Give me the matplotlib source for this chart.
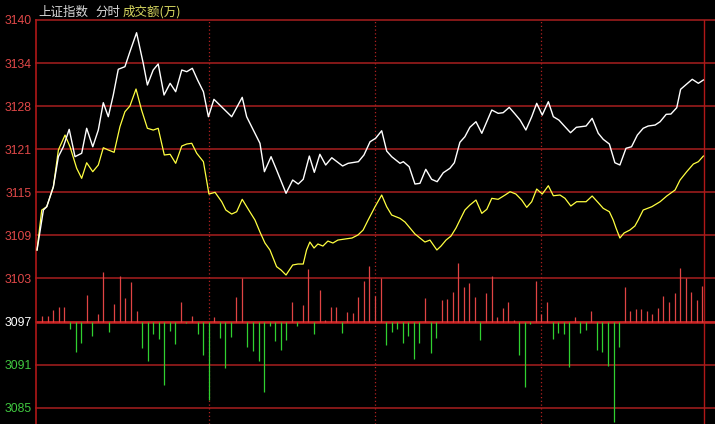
import numpy as np
import matplotlib.pyplot as plt

plt.rcParams['font.family'] = ['Noto Sans CJK SC', 'DejaVu Sans']

# 昨收与纵轴刻度
pre_close = 3097.5
step = 6.112
tick_labels = ['3085', '3091', '3097', '3103', '3109', '3115', '3121', '3128', '3134', '3140']
tick_colors = ['#40c840', '#40c840', '#ffffff'] + ['#e04848'] * 7

# 价格线（分钟, 价格）
price_t = [-1.9, 0.4, 1.6, 2.8, 4.0, 5.8, 7.6, 9.7, 11.8, 14.2, 16.0, 18.2, 20.2, 22.0, 23.8,
           25.6, 27.4, 29.8, 31.6, 34.0, 36.4, 37.9, 40.0, 41.8, 43.9, 46.1, 48.1, 50.3, 52.1,
           54.1, 56.0, 58.1, 59.9, 61.9, 68.3, 72.1, 73.7, 76.1, 78.5, 80.1, 82.5, 84.5, 87.9,
           90.3, 92.3, 94.1, 96.3, 98.1, 100.1, 102.2, 104.4, 108.3, 110.3, 114.0, 116.0, 118.2,
           120.2, 122.4, 124.2, 126.0, 129.0, 130.2, 132.3, 134.4, 136.2, 138.3, 140.4, 142.4,
           144.6, 147.0, 148.6, 150.6, 152.4, 154.2, 156.4, 158.5, 162.1, 164.4, 166.2, 168.4,
           170.5, 172.3, 174.4, 176.5, 178.3, 180.3, 182.5, 184.3, 186.3, 188.5, 190.5, 192.6,
           196.1, 198.3, 200.5, 202.3, 204.5, 206.5, 208.3, 210.5, 212.5, 214.6, 216.7, 218.5,
           221.0, 222.8, 225.0, 226.7, 228.8, 230.2, 232.4, 234.4, 236.6, 238.4]
price_v = [3107.65, 3113.32, 3113.79, 3115.21, 3116.63, 3120.89, 3122.30, 3124.77, 3120.89,
           3121.37, 3124.92, 3122.30, 3124.67, 3128.55, 3126.56, 3129.64, 3133.29, 3133.66,
           3135.78, 3138.48, 3134.14, 3131.06, 3133.19, 3134.04, 3129.64, 3131.30, 3130.11,
           3133.19, 3132.95, 3133.43, 3131.77, 3130.11, 3126.56, 3129.03, 3126.56, 3129.31,
           3126.56, 3124.67, 3122.79, 3118.76, 3120.89, 3119.00, 3115.69, 3117.58, 3117.01,
           3117.68, 3120.98, 3118.67, 3121.23, 3119.71, 3120.74, 3119.57, 3119.95, 3120.18,
           3121.13, 3123.01, 3123.50, 3124.57, 3121.69, 3120.89, 3119.95, 3120.18, 3119.47,
           3117.01, 3117.11, 3119.10, 3117.68, 3117.34, 3118.61, 3119.24, 3120.03, 3122.93,
           3123.72, 3125.06, 3125.85, 3124.21, 3127.51, 3127.04, 3127.13, 3127.89, 3126.94,
           3126.09, 3124.67, 3126.56, 3128.46, 3126.80, 3128.69, 3126.56, 3126.09, 3125.14,
           3124.29, 3125.06, 3125.24, 3126.33, 3124.21, 3123.35, 3122.69, 3120.03, 3119.71,
           3122.08, 3122.30, 3123.96, 3124.92, 3125.24, 3125.38, 3125.85, 3126.90, 3126.94,
           3127.84, 3130.45, 3131.20, 3131.87, 3131.30, 3131.77]

# 均价线（分钟, 价格）
avg_t = [-1.9, -0.2, 1.6, 2.8, 4.0, 5.8, 8.2, 10.0, 12.4, 14.2, 16.0, 18.2, 20.2, 22.0, 23.8,
         25.9, 28.0, 29.8, 31.6, 33.8, 35.8, 37.9, 40.0, 41.8, 44.0, 46.1, 48.1, 50.3, 52.1,
         53.9, 55.7, 58.1, 60.1, 62.3, 64.7, 66.2, 68.3, 70.1, 72.1, 74.3, 76.7, 78.5, 80.3,
         82.1, 84.5, 86.1, 87.9, 90.3, 92.2, 94.1, 95.3, 96.5, 98.0, 99.4, 101.2, 103.0, 104.8,
         106.6, 109.2, 111.7, 113.8, 115.7, 117.5, 120.0, 122.4, 124.2, 126.0, 129.0, 130.8,
         132.6, 134.4, 136.2, 138.0, 139.8, 141.3, 142.3, 143.8, 145.6, 147.4, 149.2, 150.6,
         152.4, 154.2, 156.4, 158.5, 160.3, 162.1, 164.4, 166.9, 168.7, 170.8, 172.9, 174.7,
         176.5, 178.3, 180.3, 182.5, 184.3, 186.7, 188.5, 190.6, 192.7, 196.1, 198.3, 200.5,
         202.3, 204.5, 205.9, 206.9, 208.3, 209.8, 211.9, 213.7, 214.9, 216.7, 219.8, 222.8,
         225.2, 228.2, 230.0, 232.4, 234.8, 236.6, 238.4]
avg_v = [3107.65, 3113.32, 3113.79, 3115.21, 3116.63, 3121.84, 3123.96, 3122.30, 3119.24,
         3117.82, 3120.03, 3118.76, 3119.71, 3122.16, 3121.84, 3121.51, 3125.14, 3127.27,
         3128.08, 3130.49, 3127.51, 3124.92, 3124.67, 3124.92, 3121.13, 3121.23, 3119.95,
         3122.40, 3122.69, 3122.79, 3121.37, 3120.18, 3115.59, 3115.83, 3114.50, 3113.32,
         3112.75, 3113.08, 3114.84, 3113.42, 3111.90, 3110.20, 3108.64, 3107.65, 3105.28,
         3104.81, 3104.10, 3105.52, 3105.66, 3105.66, 3107.65, 3108.78, 3107.93, 3108.50,
         3108.21, 3108.92, 3108.64, 3109.06, 3109.21, 3109.35, 3109.77, 3110.48, 3111.90,
         3113.79, 3115.45, 3113.79, 3112.61, 3112.14, 3111.62, 3110.77, 3109.92, 3109.35,
         3108.78, 3109.06, 3108.21, 3107.65, 3108.21, 3109.06, 3109.63, 3110.77, 3111.90,
         3113.32, 3114.03, 3114.74, 3112.85, 3113.42, 3114.98, 3114.84, 3115.45, 3115.92,
         3115.59, 3114.74, 3113.70, 3114.50, 3116.30, 3115.59, 3116.77, 3115.35, 3115.45,
         3114.98, 3113.89, 3114.50, 3114.50, 3115.31, 3114.36, 3113.56, 3113.08, 3111.90,
         3110.77, 3109.35, 3110.06, 3110.48, 3111.05, 3111.90, 3113.32, 3113.79, 3114.50,
         3115.31, 3116.16, 3117.58, 3118.76, 3119.85, 3120.18, 3120.98]

# 红绿柱（每2分钟一根，相对昨收的高度）
bar_h = [0.81, 0.81, 1.66, 2.04, 2.04, -1.04, -4.26, -2.98, 3.79, -2.03, 1.05, 7.01, -1.42,
         2.51, 6.48, 3.32, 5.63, 1.52, -3.69, -5.53, -1.79, -2.45, -9.00, -1.28, -3.16, 2.84,
         -0.14, 0.81, -1.79, -4.73, -11.13,
         0.71, -2.27, -6.53, -2.13, 3.55, 6.16, -3.55, -4.16, -5.58, -10.07, -0.61, -2.70,
         -4.11, -2.60, 2.84, -0.61, 2.37, 7.48, -1.79, 4.50, 0.24, 2.13, 2.04, -1.65, 1.42,
         1.28, 3.55, 5.68, 7.90, 3.65,
         6.16, -3.31, -1.42, -1.04, -2.98, -2.03, -5.29, -2.98, 3.32, -4.40, -2.27, 3.08,
         3.22, 4.12, 8.37, 4.97, 5.53, 3.41, -2.60, 4.03, 6.39, 0.71, 1.99, 2.75, 0.24,
         -4.82, -9.22, -0.33, 5.68, 1.09,
         2.75, -2.50, -1.56, -1.75, -6.39, 0.71, -1.56, -1.18, 1.52, -4.11, -4.26, -6.24,
         -14.19, -3.55, 4.97, 1.52, 1.76, 1.76, 1.56, 1.09, 1.99, 3.65, 2.75, 4.03, 7.66,
         6.16, 4.23, 3.08, 5.07]
bar_t = np.arange(len(bar_h)) * 2

grid_c = '#9a1c1c'

fig = plt.figure(figsize=(7.15, 4.24), dpi=100, facecolor='black')
ax = fig.add_axes([36 / 715, 0, 1 - 36 / 715, 404 / 424])
ax.set_facecolor('black')

ticks = pre_close + step * np.arange(-2, 8)
for y in ticks:
    ax.axhline(y, color=grid_c, lw=1.2, clip_on=False, zorder=1)
ax.axhline(pre_close, color='#c82424', lw=1.8, zorder=2)

for m in [60, 120, 180]:
    ax.axvline(m, color='#b02020', lw=0.9, ls=(0, (1, 2)), zorder=1)
ax.axvline(238.6, color='#b01818', lw=1.0, zorder=1)

bars = np.array(bar_h)
up = bars > 0
ax.vlines(bar_t[up], pre_close, pre_close + bars[up], color='#e04444', lw=0.9, zorder=3)
ax.vlines(bar_t[~up], pre_close, pre_close + bars[~up], color='#30d030', lw=0.9, zorder=3)

ax.plot(avg_t, avg_v, color='#ffff40', lw=0.9, zorder=4)
ax.plot(price_t, price_v, color='white', lw=1.0, zorder=5)

ax.set_xlim(-2.27, 242.6)
ax.set_ylim(3082.96, 3140.28)
ax.set_xticks([])
ax.set_yticks(ticks)
ax.set_yticklabels(tick_labels, family='Liberation Sans', fontsize=8.8)
for lab, c in zip(ax.get_yticklabels(), tick_colors):
    lab.set_color(c)
ax.tick_params(axis='y', length=0, pad=3)
for s in ['top', 'right', 'bottom']:
    ax.spines[s].set_visible(False)
ax.spines['left'].set_color('#b01818')
ax.spines['left'].set_linewidth(1.2)

ty = 1 - 12 / 424
fig.text(38 / 715, ty, '上证指数', color='#d8d8d8', fontsize=9, va='center')
fig.text(95 / 715, ty, '分时', color='#d8d8d8', fontsize=9, va='center')
fig.text(123 / 715, ty, '成交额(万)', color='#d8d860', fontsize=9, va='center')

fig.savefig('out.png', dpi=100, facecolor='black')
